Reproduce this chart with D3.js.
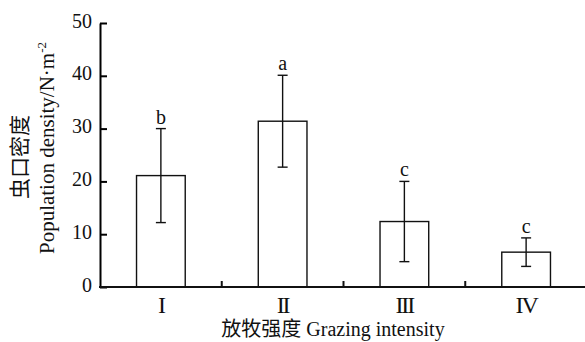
<!DOCTYPE html>
<html>
<head>
<meta charset="utf-8">
<title>Population density</title>
<script src="https://d3js.org/d3.v7.min.js"></script>
<style>
  body { margin: 0; background: #fff; }
  text { font-family: "Liberation Serif", "Noto Sans CJK SC", serif; fill: #111; }
</style>
</head>
<body>
<div id="chart"></div>
<script>
// data
let groups = ["I", "II", "III", "IV"];
let means = [21.1, 31.4, 12.4, 6.6];
let errs = [8.9, 8.7, 7.6, 2.7];
let letters = ["b", "a", "c", "c"];
let yTicks = [0, 10, 20, 30, 40, 50];

let W = 585, H = 342;
let margin = {top: 23, right: -2, bottom: 55, left: 100};
let w = W - margin.left - margin.right;
let h = H - margin.top - margin.bottom;

let svg = d3.select("#chart").append("svg")
    .attr("width", W).attr("height", H);
let g = svg.append("g")
    .attr("transform", "translate(" + margin.left + "," + margin.top + ")");

let x = d3.scaleBand().domain(groups).range([0, w]).paddingInner(0.6).paddingOuter(0.3);
let y = d3.scaleLinear().domain([0, 50]).range([h, 0]);

// bars
g.selectAll("rect.bar").data(groups).enter().append("rect")
    .attr("x", d => x(d))
    .attr("y", (d, i) => y(means[i]))
    .attr("width", x.bandwidth())
    .attr("height", (d, i) => h - y(means[i]))
    .attr("fill", "#fff").attr("stroke", "#111").attr("stroke-width", 1.4);

// error bars
let eb = g.selectAll("g.err").data(groups).enter().append("g")
    .attr("transform", d => "translate(" + (x(d) + x.bandwidth() / 2) + ",0)");
eb.append("line")
    .attr("y1", (d, i) => y(means[i] + errs[i]))
    .attr("y2", (d, i) => y(means[i] - errs[i]))
    .attr("stroke", "#111").attr("stroke-width", 1.4);
eb.append("line").attr("x1", -5).attr("x2", 5)
    .attr("y1", (d, i) => y(means[i] + errs[i])).attr("y2", (d, i) => y(means[i] + errs[i]))
    .attr("stroke", "#111").attr("stroke-width", 1.4);
eb.append("line").attr("x1", -5).attr("x2", 5)
    .attr("y1", (d, i) => y(means[i] - errs[i])).attr("y2", (d, i) => y(means[i] - errs[i]))
    .attr("stroke", "#111").attr("stroke-width", 1.4);
eb.append("text")
    .attr("y", (d, i) => y(means[i] + errs[i]) - 5)
    .attr("text-anchor", "middle")
    .attr("font-size", "20px")
    .text((d, i) => letters[i]);

// y axis
let yAxis = d3.axisLeft(y).tickValues(yTicks).tickSizeInner(-7).tickSizeOuter(0).tickPadding(8);
let ya = g.append("g").call(yAxis);
ya.select(".domain").attr("stroke-width", 2);
ya.selectAll(".tick line").attr("stroke-width", 2);
ya.selectAll(".tick text").attr("font-size", "20px").attr("font-family", "Liberation Serif")
    .attr("fill", "#111").attr("dy", "0.2em");

// x axis: ticks between the bars, pointing up
let xa = g.append("g").attr("transform", "translate(0," + h + ")");
xa.append("line").attr("x1", -1).attr("x2", w + 2).attr("stroke", "#111").attr("stroke-width", 2);
let step = x.step();
xa.selectAll("line.tk").data(groups.slice(1)).enter().append("line")
    .attr("x1", d => x(d) - (step - x.bandwidth()) / 2)
    .attr("x2", d => x(d) - (step - x.bandwidth()) / 2)
    .attr("y1", 0).attr("y2", -6)
    .attr("stroke", "#111").attr("stroke-width", 2);
xa.selectAll("text").data(groups).enter().append("text")
    .attr("x", d => x(d) + x.bandwidth() / 2)
    .attr("y", 26)
    .attr("text-anchor", "middle")
    .attr("font-size", "24px")
    .attr("letter-spacing", "-2px")
    .text(d => d);

// axis titles
svg.append("text")
    .attr("x", 333).attr("y", 336)
    .attr("text-anchor", "middle")
    .attr("font-size", "20px")
    .text("放牧强度 Grazing intensity");

svg.append("text")
    .attr("transform", "translate(27,157) rotate(-90)")
    .attr("text-anchor", "middle")
    .attr("font-size", "21px")
    .text("虫口密度");

let yl2 = svg.append("text")
    .attr("transform", "translate(54,148) rotate(-90)")
    .attr("text-anchor", "middle")
    .attr("font-size", "21px");
yl2.append("tspan").text("Population density/N·m");
yl2.append("tspan").attr("font-size", "13px").attr("dy", -8).text("-2");
</script>
</body>
</html>
